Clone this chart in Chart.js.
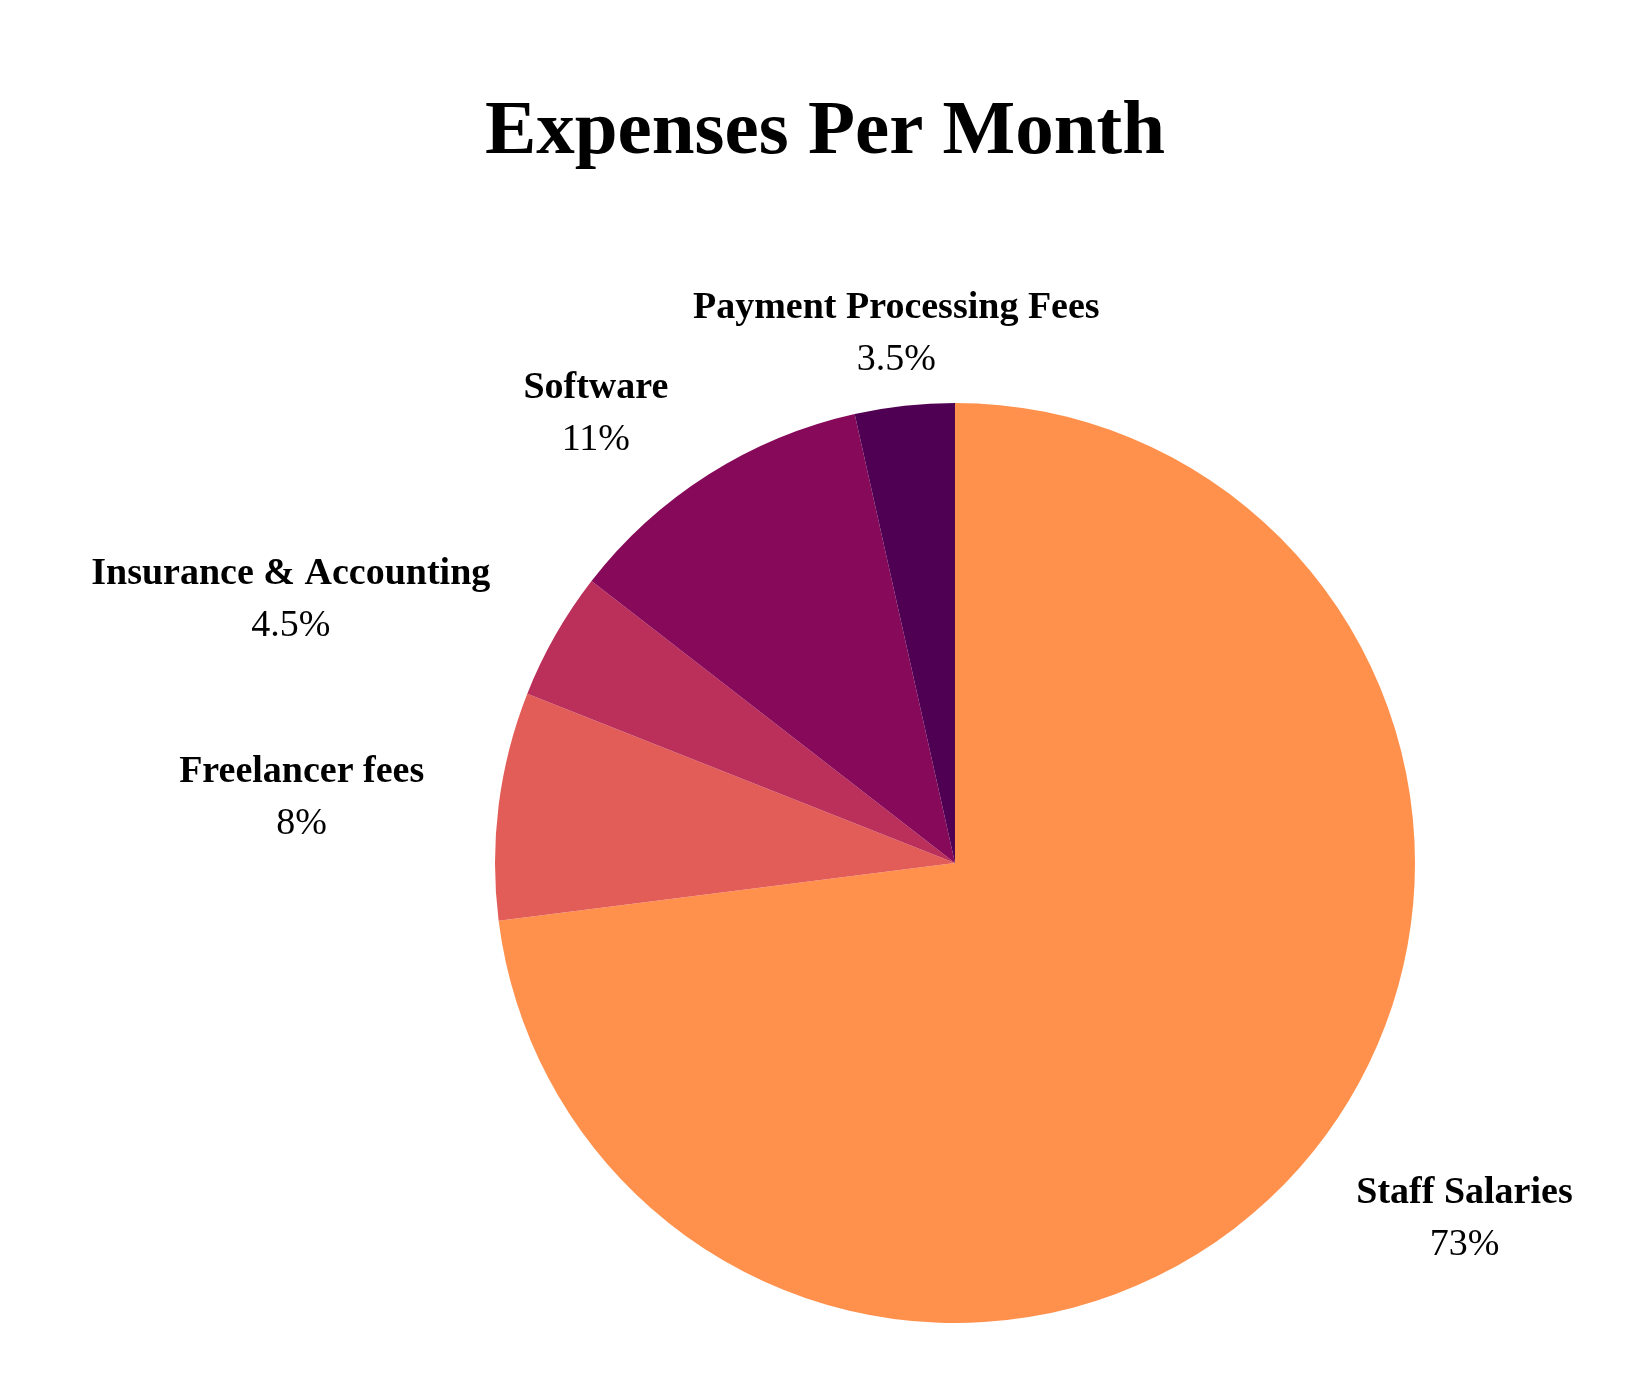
<!DOCTYPE html>
<html>
<head>
<meta charset="utf-8">
<title>Expenses Per Month</title>
<script src="https://cdn.jsdelivr.net/npm/chart.js@4.4.1/dist/chart.umd.min.js"></script>
<style>
  html, body { margin: 0; padding: 0; background: #ffffff; }
  #wrap { width: 1650px; height: 1400px; }
</style>
</head>
<body>
<div id="wrap"><canvas id="expensesPie" width="1650" height="1400"></canvas></div>
<script>
const TITLE = "Expenses Per Month";
const CATEGORIES = ["Staff Salaries", "Freelancer fees", "Insurance & Accounting", "Software", "Payment Processing Fees"];
const SHARES = [73, 8, 4.5, 11, 3.5];
const COLORS = ["#FF914D", "#E35D58", "#BB2F5B", "#87095A", "#4F0052"];

const FONT = "'Liberation Serif', 'DejaVu Serif', serif";

// title drawn over the whole canvas width (the pie itself is off-centre)
const titlePlugin = {
  id: "pageTitle",
  afterDraw(chart) {
    const ctx = chart.ctx;
    ctx.save();
    ctx.font = `bold 77px ${FONT}`;
    ctx.fillStyle = "#000";
    ctx.textAlign = "center";
    ctx.textBaseline = "alphabetic";
    ctx.fillText(TITLE, chart.width / 2, 153);
    ctx.restore();
  }
};

// name + percent outside each slice
const sliceLabels = {
  id: "sliceLabels",
  afterDatasetsDraw(chart) {
    const ctx = chart.ctx;
    const meta = chart.getDatasetMeta(0);
    const values = chart.data.datasets[0].data;
    const total = values.reduce((a, b) => a + b, 0);

    ctx.save();
    ctx.fillStyle = "#000";
    ctx.textAlign = "center";
    ctx.textBaseline = "alphabetic";

    meta.data.forEach((arc, i) => {
      const { x, y, startAngle, endAngle, outerRadius } =
        arc.getProps(["x", "y", "startAngle", "endAngle", "outerRadius"], true);
      const mid = (startAngle + endAngle) / 2;
      const dx = Math.cos(mid), dy = Math.sin(mid);
      const dist = outerRadius + 75;
      const px = x + dx * dist, py = y + dy * dist;

      const name = chart.data.labels[i];
      const pct = `${Math.round(values[i] / total * 1000) / 10}%`;

      ctx.font = `bold 38px ${FONT}`;
      const nameW = ctx.measureText(name).width;
      const cap = ctx.measureText("H").actualBoundingBoxAscent;
      ctx.font = `38px ${FONT}`;
      const pctW = ctx.measureText(pct).width;

      const w = Math.max(nameW, pctW);
      const gap = 52;
      const h = cap + gap;

      let cx = px, cy = py;
      if (Math.abs(dx) >= 0.3) cx = px + Math.sign(dx) * w / 2;

      const base1 = cy - h / 2 + cap;
      ctx.font = `bold 38px ${FONT}`;
      ctx.fillText(name, cx, base1);
      ctx.font = `38px ${FONT}`;
      ctx.fillText(pct, cx, base1 + gap);
    });
    ctx.restore();
  }
};

new Chart(document.getElementById("expensesPie"), {
  type: "pie",
  data: {
    labels: CATEGORIES,
    datasets: [{
      data: SHARES,
      backgroundColor: COLORS,
      borderWidth: 0,
      hoverOffset: 0
    }]
  },
  options: {
    responsive: false,
    animation: false,
    layout: { padding: { top: 403, bottom: 77, left: 495, right: 235 } },
    plugins: {
      legend: { display: false },
      tooltip: { enabled: false },
      title: { display: false }
    }
  },
  plugins: [sliceLabels, titlePlugin]
});
</script>
</body>
</html>
